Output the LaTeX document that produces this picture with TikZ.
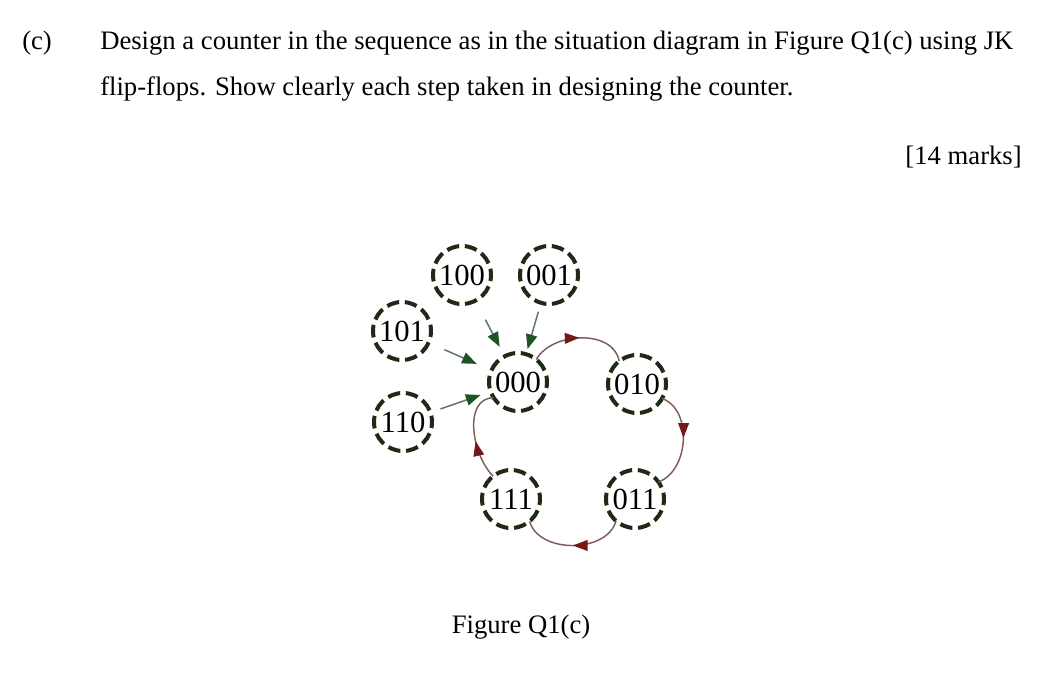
\documentclass[tikz,border=0pt]{standalone}
\usepackage{fontspec}
\setmainfont{Liberation Serif}
\usetikzlibrary{arrows.meta,decorations.markings}
\definecolor{ring}{HTML}{1F2A16}
\definecolor{gshaft}{HTML}{5E7468}
\definecolor{ghead}{HTML}{1E5522}
\definecolor{rshaft}{HTML}{7E5C60}
\definecolor{rhead}{HTML}{761818}
\begin{document}
\begin{tikzpicture}[x=0.75pt,y=0.75pt,
 state/.style={circle,draw=ring,line width=3pt,dash pattern=on 9.4pt off 4.27pt,dash phase=4.7pt,minimum size=43.5pt,inner sep=0pt,outer sep=0pt,font=\fontsize{23}{23}\selectfont},
 garrow/.style={draw=gshaft,line width=1.1pt,-{Triangle[length=11pt,width=8.5pt,color=ghead]}},
 rarrow/.style={draw=rshaft,line width=1.1pt,postaction={decorate},decoration={markings,mark=at position #1 with {\arrow{Triangle[length=11pt,width=8pt,color=rhead]}}}},
 txt/.style={font=\fontsize{20}{24}\selectfont,inner sep=0pt}]
\useasboundingbox[fill=white] (0,0) rectangle (1056,686);
% question text
\node[txt,anchor=base west] (lab) at (22,636) {(c)};
\node[txt,anchor=base west] (l1) at (100,636) {Design a counter in the sequence as in the situation diagram in Figure Q1(c) using JK};
\node[txt,anchor=base west] (l2) at (100,590) {flip-flops. Show clearly each step taken in designing the counter.};
\node[txt,anchor=base east] (marks) at (1022,521) {[14 marks]};
% states
\node[state] (n100) at (462,411) {100};
\node[state] (n001) at (549,411) {001};
\node[state] (n101) at (402,355) {101};
\node[state] (n000) at (518,304) {000};
\node[state] (n010) at (637,302) {010};
\node[state] (n110) at (403,264) {110};
\node[state] (n111) at (511,187) {111};
\node[state] (n011) at (635,187) {011};
% unused states into 000
\draw[garrow,shorten <=16pt,shorten >=8pt] (n100) -- (n000);
\draw[garrow,shorten <=7pt,shorten >=4pt] (n001) -- (n000);
\draw[garrow,shorten <=13pt,shorten >=12pt] (n101) -- (n000);
\draw[garrow,shorten <=8pt,shorten >=8pt] (n110) -- (n000);
% main cycle
\draw[rarrow=0.5] (n000.51) to[out=60,in=100] (n010.128);
\draw[rarrow=0.47] (n010.-30) to[out=-20,in=20] (n011.36);
\draw[rarrow=0.5] (n011.229) to[out=-105,in=-75] (n111.310);
\draw[rarrow=0.42] (n111.128) to[out=135,in=180] (n000.213);
% caption
\node[txt,anchor=base] (cap) at (521,53) {Figure Q1(c)};
\end{tikzpicture}
\end{document}
